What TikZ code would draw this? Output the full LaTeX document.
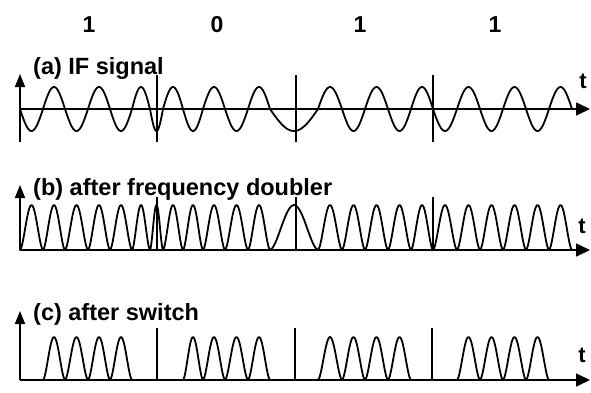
\documentclass[tikz,border=0pt]{standalone}
\usepackage{fontspec}
\setmainfont{Liberation Sans}
\usetikzlibrary{arrows.meta}
\begin{document}
\begin{tikzpicture}[x=1pt,y=-1pt,
  sig/.style={line width=1.8pt, line join=round, line cap=round},
  axisline/.style={line width=1.6pt},
  xarrow/.style={axisline, -{Triangle[length=14pt,width=13pt]}},
  yarrow/.style={axisline, -{Triangle[length=13pt,width=10pt]}},
  divider/.style={line width=1.5pt},
  lbl/.style={anchor=base west, inner sep=0pt, font=\fontsize{23.5}{26}\selectfont\bfseries},
  bitlbl/.style={anchor=base, inner sep=0pt, font=\fontsize{23}{26}\selectfont\bfseries},
  tlbl/.style={anchor=base, inner sep=0pt, font=\fontsize{22}{26}\selectfont\bfseries}]
\useasboundingbox (0,0) rectangle (591,392);

% bit labels
\node[bitlbl] (b1) at (89,32) {1};
\node[bitlbl] (b2) at (217,32) {0};
\node[bitlbl] (b3) at (360,32) {1};
\node[bitlbl] (b4) at (495,32) {1};

% ---------- (a) IF signal ----------
\coordinate (ay0) at (20,142);
\coordinate (ay1) at (20,74);
\coordinate (ax0) at (20,109);
\coordinate (ax1) at (590,109);
\draw[yarrow] (ay0) -- (ay1);
\draw[xarrow] (ax0) -- (ax1);
\node[lbl] (la) at (33,74) {(a) IF signal};
\node[tlbl] (ta) at (583,88) {t};
\foreach \dx [count=\i] in {157,296,433}{
  \coordinate (da\i t) at (\dx,75);
  \coordinate (da\i b) at (\dx,142);
  \draw[divider] (da\i t) -- (da\i b);
}
\draw[sig] (20,109) \foreach \za/\zb/\sg in {20/43/-1,43/65/1,65/88/-1,88/110/1,110/132/-1,132/150/1,150/163/-1,163/183/1,183/203/-1,203/225/1,225/248/-1,248/270/1,270/318/-1,318/342/1,342/365/-1,365/388/1,388/411/-1,411/433/1,433/457/-1,457/480/1,480/503/-1,503/526/1,526/549/-1,549/572/1}{
  -- plot[domain=\za:\zb, samples=25] (\x,{109-\sg*22*sin(180*(\x-\za)/(\zb-\za))})
};

% ---------- (b) after frequency doubler ----------
\coordinate (by0) at (20,250);
\coordinate (by1) at (20,185);
\coordinate (bx0) at (20,250);
\coordinate (bx1) at (590,250);
\draw[yarrow] (by0) -- (by1);
\draw[xarrow] (bx0) -- (bx1);
\node[lbl] (lb) at (33,195) {(b) after frequency doubler};
\node[tlbl] (tb) at (582,233) {t};
\foreach \dx [count=\i] in {157,296,433}{
  \coordinate (db\i t) at (\dx,197);
  \coordinate (db\i b) at (\dx,250);
  \draw[divider] (db\i t) -- (db\i b);
}
\draw[sig] (20,250) \foreach \za/\zb in {20/43,43/65,65/88,88/110,110/132,132/150,150/163,163/183,183/203,203/225,225/248,248/270,270/318,318/342,342/365,365/388,388/411,411/433,433/457,457/480,480/503,503/526,526/549,549/572}{
  -- plot[domain=\za:\zb, samples=25] (\x,{250-45*pow(sin(180*(\x-\za)/(\zb-\za)),1.7)})
};

% ---------- (c) after switch ----------
\coordinate (cy0) at (20,380);
\coordinate (cy1) at (20,311);
\coordinate (cx0) at (20,380);
\coordinate (cx1) at (590,380);
\draw[yarrow] (cy0) -- (cy1);
\draw[xarrow] (cx0) -- (cx1);
\node[lbl] (lc) at (33,320) {(c) after switch};
\node[tlbl] (tc) at (582,362) {t};
\foreach \dx [count=\i] in {157,295,432}{
  \coordinate (dc\i t) at (\dx,328);
  \coordinate (dc\i b) at (\dx,380);
  \draw[divider] (dc\i t) -- (dc\i b);
}
\foreach \grp in {{43/65,65/88,88/110,110/132},{183/203,203/225,225/248,248/270},{318/342,342/365,365/388,388/411},{457/480,480/503,503/526,526/549}}{
  \draw[sig] \foreach \za/\zb [count=\k] in \grp {
    \ifnum\k=1 (\za,380) \fi
    -- plot[domain=\za:\zb, samples=25] (\x,{380-43*pow(sin(180*(\x-\za)/(\zb-\za)),1.7)})
  };
}
\end{tikzpicture}
\end{document}
